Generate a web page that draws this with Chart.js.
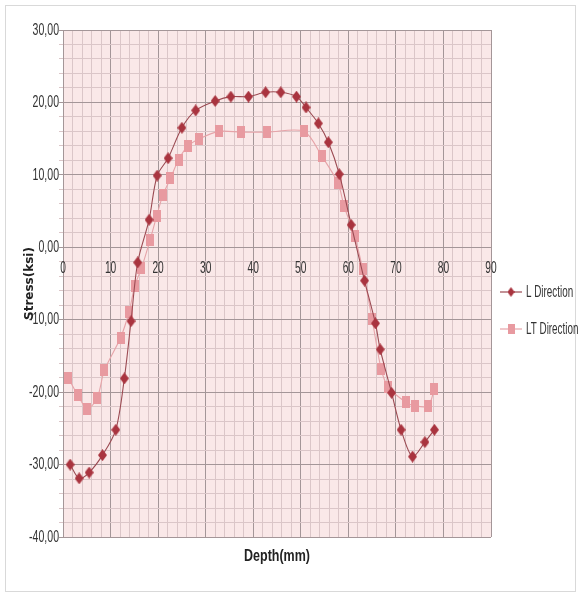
<!DOCTYPE html>
<html>
<head>
<meta charset="utf-8">
<script src="https://cdn.jsdelivr.net/npm/chart.js@4.4.1/dist/chart.umd.min.js"></script>
<style>
  body { margin: 0; background: #fff; }
  #wrap { position: absolute; left: 0; top: 0; width: 579px; height: 594px; }
  #frame { position: absolute; left: 5px; top: 5px; width: 569px; height: 585px; border: 1px solid #d9d9d9; }
</style>
</head>
<body>
<div id="wrap">
  <div id="frame"></div>
  <canvas id="stressChart" width="579" height="594" style="position:absolute;left:0;top:0"></canvas>
</div>
<script>
// depth (mm) and stress (ksi)
const lDepth = [1.5, 3.4, 5.5, 8.3, 11.1, 12.9, 14.3, 15.7, 18.1, 19.8, 22.1, 25, 27.9, 32, 35.3, 39, 42.6, 45.8, 49.1, 51.1, 53.7, 55.8, 58.1, 60.6, 63.4, 65.7, 66.7, 69.1, 71.1, 73.5, 76.1, 78.1];
const lStress = [-30.0, -31.9, -31.1, -28.7, -25.2, -18.1, -10.2, -2.1, 3.8, 9.9, 12.3, 16.5, 18.9, 20.2, 20.8, 20.8, 21.4, 21.4, 20.8, 19.3, 17.1, 14.5, 10.1, 3.1, -4.6, -10.5, -14.1, -20.1, -25.2, -28.9, -26.9, -25.2];

const ltDepth = [1.1, 3.1, 5.1, 7.2, 8.7, 12.1, 13.9, 15.1, 16.5, 18.3, 19.7, 21, 22.6, 24.3, 26.3, 28.7, 32.9, 37.4, 43, 50.7, 54.4, 57.8, 59.1, 61.3, 63, 65, 66.9, 68.4, 72.1, 74, 76.8, 78.1];
const ltStress = [-18.0, -20.4, -22.3, -20.8, -17.0, -12.5, -8.9, -5.3, -2.9, 1.0, 4.3, 7.2, 9.5, 12.1, 14.0, 15.0, 16.0, 15.9, 15.9, 16.0, 12.6, 8.9, 5.7, 1.6, -3.0, -9.9, -16.8, -19.3, -21.4, -21.9, -21.9, -19.5];

const seriesNames = ['L Direction', 'LT Direction'];
const xLabels = [0, 10, 20, 30, 40, 50, 60, 70, 80, 90];
const yLabels = [30, 20, 10, 0, -10, -20, -30, -40];

const lColor = '#a9343f';
const ltColor = '#e89aa0';
const sans = "'Liberation Sans', Arial, sans-serif";

function makeMarker(kind, color, w, h) {
    const c = document.createElement('canvas');
    c.width = w; c.height = h;
    const g = c.getContext('2d');
    g.fillStyle = color;
    if (kind === 'diamond') {
        g.beginPath();
        g.moveTo(w / 2, 0); g.lineTo(w, h / 2); g.lineTo(w / 2, h); g.lineTo(0, h / 2);
        g.closePath(); g.fill();
    } else {
        g.fillRect(0, 0, w, h);
    }
    return c;
}
const diamond = makeMarker('diamond', lColor, 9, 12);
const square = makeMarker('square', ltColor, 8, 12);
const legendDiamond = makeMarker('diamond', lColor, 7, 10);
const legendSquare = makeMarker('square', ltColor, 7, 10);

function toPoints(xs, ys) {
    return xs.map((x, i) => ({ x: x, y: ys[i] }));
}

// condensed text, like the narrow font of the original
function narrowText(ctx, text, x, y, align, font, sx) {
    ctx.save();
    ctx.font = font;
    ctx.textBaseline = 'middle';
    ctx.textAlign = align;
    ctx.translate(x, y);
    ctx.scale(sx, 1);
    ctx.fillText(text, 0, 0);
    ctx.restore();
}

const plotBackground = {
    id: 'plotBackground',
    beforeDraw(chart) {
        const a = chart.chartArea;
        const ctx = chart.ctx;
        ctx.save();
        ctx.fillStyle = '#fae8e8';
        ctx.fillRect(a.left, a.top, a.right - a.left, a.bottom - a.top);
        ctx.restore();
    }
};

const extraText = {
    id: 'extraText',
    afterDraw(chart) {
        const ctx = chart.ctx;
        const a = chart.chartArea;
        const xs = chart.scales.x, ys = chart.scales.y;
        ctx.save();
        ctx.fillStyle = '#333';
        yLabels.forEach(v => {
            narrowText(ctx, v.toFixed(2).replace('.', ','), a.left - 4, ys.getPixelForValue(v),
                'right', '17px ' + sans, 0.62);
        });
        const y0 = ys.getPixelForValue(0);
        xLabels.forEach(v => {
            narrowText(ctx, String(v), xs.getPixelForValue(v), y0 + 21, 'center', '17px ' + sans, 0.6);
        });
        ctx.fillStyle = '#222';
        narrowText(ctx, 'Depth(mm)', (a.left + a.right) / 2, 557, 'center', 'bold 16px ' + sans, 0.78);

        // legend
        const items = [
            { y: 292, img: legendDiamond, line: '#9b4a52' },
            { y: 329, img: legendSquare, line: '#e6a3a8' }
        ];
        items.forEach((it, i) => {
            ctx.strokeStyle = it.line;
            ctx.lineWidth = 1.2;
            ctx.beginPath();
            ctx.moveTo(500, it.y); ctx.lineTo(522, it.y);
            ctx.stroke();
            ctx.drawImage(it.img, 511 - it.img.width / 2, it.y - it.img.height / 2);
            ctx.fillStyle = '#333';
            narrowText(ctx, seriesNames[i], 526, it.y, 'left', '17px ' + sans, 0.58);
        });
        ctx.restore();
    }
};

function gridColor(ctx) {
    const v = ctx.tick ? ctx.tick.value : 0;
    return Math.abs(v % 10) < 1e-6 ? '#a49698' : '#dbc6c8';
}

const data = {
    datasets: [{
        label: seriesNames[0],
        data: toPoints(lDepth, lStress),
        showLine: true,
        borderColor: '#9b4a52',
        borderWidth: 1.1,
        pointStyle: diamond,
        tension: 0.3
    },
    {
        label: seriesNames[1],
        data: toPoints(ltDepth, ltStress),
        showLine: true,
        borderColor: '#e6a3a8',
        borderWidth: 1.1,
        pointStyle: square,
        tension: 0.3
    }]
};

const configChart = {
    type: 'scatter',
    data: data,
    options: {
        responsive: false,
        animation: false,
        layout: {
            padding: { left: 23, right: 88, top: 30, bottom: 57 }
        },
        plugins: {
            legend: { display: false },
            tooltip: { enabled: false }
        },
        scales: {
            x: {
                type: 'linear',
                position: { y: 0 },
                min: 0,
                max: 90,
                grid: { color: gridColor, lineWidth: 1, tickLength: 0 },
                border: { color: '#a49698' },
                ticks: {
                    stepSize: 2,
                    autoSkip: false,
                    maxRotation: 0,
                    callback: () => ''
                }
            },
            y: {
                min: -40,
                max: 30,
                afterFit: scale => { scale.width = 40; },
                grid: { color: gridColor, lineWidth: 1, tickLength: 4 },
                border: { color: '#a49698' },
                title: {
                    display: true,
                    text: 'Stress(ksi)',
                    color: '#222',
                    font: { family: "'DejaVu Sans'", size: 12, weight: 'bold' },
                    padding: 0
                },
                ticks: {
                    stepSize: 2,
                    autoSkip: false,
                    callback: () => ''
                }
            }
        }
    },
    plugins: [plotBackground, extraText]
};

let chart = new Chart(document.getElementById('stressChart'), configChart);
</script>
</body>
</html>
